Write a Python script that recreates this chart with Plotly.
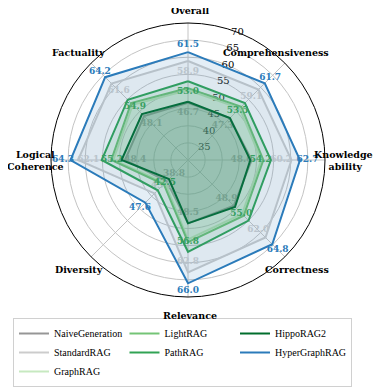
import plotly.graph_objects as go

# Axis order, clockwise from the top.
dims = ["Overall", "Comprehensiveness", "Knowledgeability", "Correctness",
        "Relevance", "Diversity", "Logical Coherence", "Factuality"]

naive = [46.7, 47.3, 48.6, 48.9, 48.5, 38.8, 48.4, 48.1]
standard = [58.9, 59.1, 60.2, 62.0, 62.8, 43.8, 62.1, 61.6]
graphrag = [50.4, 51.3, 51.4, 52.3, 53.2, 39.5, 51.8, 52.8]
lightrag = [51.0, 52.0, 52.0, 53.0, 54.0, 40.0, 52.4, 53.5]
pathrag = [53.0, 53.5, 54.2, 55.0, 56.8, 42.5, 55.2, 54.9]
hipporag = [47.0, 47.3, 48.2, 49.4, 48.5, 37.9, 49.4, 49.0]
hypergraph = [61.5, 61.7, 62.7, 64.8, 66.0, 47.6, 64.3, 64.2]

radial_ticks = [35, 40, 45, 50, 55, 60, 65, 70]

FONT = "DejaVu Serif"
W, H = 381, 389
OFF = 8  # the page body adds an 8px margin


def px(x):
    return (x - OFF) / W


def py(y):
    return 1 - (y - OFF) / H


# name, values, line colour, fill rgb, label colour (None = no labels), label shift, legend rank
series = [
    ("NaiveGeneration", naive, "#969696", "150,150,150", "#a3a3a3", -3.0, 1),
    ("StandardRAG", standard, "#cccccc", "204,204,204", "#cfcfcf", -3.0, 4),
    ("GraphRAG", graphrag, "#c7e9c0", "199,233,192", None, 0, 7),
    ("LightRAG", lightrag, "#74c476", "116,196,118", None, 0, 2),
    ("PathRAG", pathrag, "#31a354", "49,163,84", "#3aa655", -3.0, 5),
    ("HippoRAG2", hipporag, "#006d2c", "0,109,44", None, 0, 3),
    ("HyperGraphRAG", hypergraph, "#2b7bba", "43,123,186", "#2b7bba", 2.2, 6),
]

fig = go.Figure()
theta = dims + dims[:1]

for name, vals, color, rgb, lab_color, shift, rank in series:
    r = vals + vals[:1]
    fig.add_trace(go.Scatterpolar(
        r=r, theta=theta, mode="lines", fill="toself",
        fillcolor=f"rgba({rgb},0.13)", line=dict(width=0),
        showlegend=False, hoverinfo="skip",
    ))
    fig.add_trace(go.Scatterpolar(
        r=r, theta=theta, mode="lines", name=name,
        line=dict(color=color, width=2), legendrank=rank,
    ))
    if lab_color:
        fig.add_trace(go.Scatterpolar(
            r=[v + shift for v in vals], theta=dims, mode="text",
            text=[f"{v:.1f}" for v in vals],
            textfont=dict(family=FONT, size=9, color=lab_color, weight="bold"),
            showlegend=False, hoverinfo="skip",
        ))

# Axis names placed by hand, like the original (screen pixels).
labels = [
    ("Overall", 190, 11, "center"),
    ("Comprehensiveness", 331, 52, "right"),
    ("Knowledge-<br>ability", 379, 160, "right"),
    ("Correctness", 297, 269, "center"),
    ("Relevance", 190, 315, "center"),
    ("Diversity", 79, 269, "center"),
    ("Logical<br>Coherence", 35, 160, "center"),
    ("Factuality", 78, 52, "center"),
]
for text, x, y, anchor in labels:
    fig.add_annotation(
        x=px(x), y=py(y), xref="paper", yref="paper",
        text=f"<b>{text}</b>", showarrow=False, align="center",
        xanchor=anchor, yanchor="middle",
        font=dict(family=FONT, size=9.5, color="black"),
    )

fig.update_layout(
    width=W, height=H,
    margin=dict(l=0, r=0, t=0, b=0),
    paper_bgcolor="white",
    font=dict(family=FONT, color="black"),
    polar=dict(
        domain=dict(x=[px(51), px(325)], y=[py(297), py(23)]),
        bgcolor="white",
        angularaxis=dict(
            rotation=90, direction="clockwise", categoryorder="array",
            categoryarray=dims, showticklabels=False, ticks="",
            linecolor="black", linewidth=1,
            gridcolor="#c4c4c4", gridwidth=1, layer="below traces",
        ),
        radialaxis=dict(
            range=[30, 70], tickvals=radial_ticks, angle=74, tickangle=74,
            showline=False, ticks="", gridcolor="#c4c4c4", gridwidth=1,
            tickfont=dict(family=FONT, size=10, color="black"),
            layer="below traces",
        ),
    ),
    legend=dict(
        orientation="h", x=px(13), y=py(387),
        xanchor="left", yanchor="bottom",
        entrywidth=0.29, entrywidthmode="fraction",
        bordercolor="#d0d0d0", borderwidth=1,
        font=dict(family="Liberation Serif", size=10, color="black"),
        itemwidth=30,
    ),
)

fig.write_html("out.html")
